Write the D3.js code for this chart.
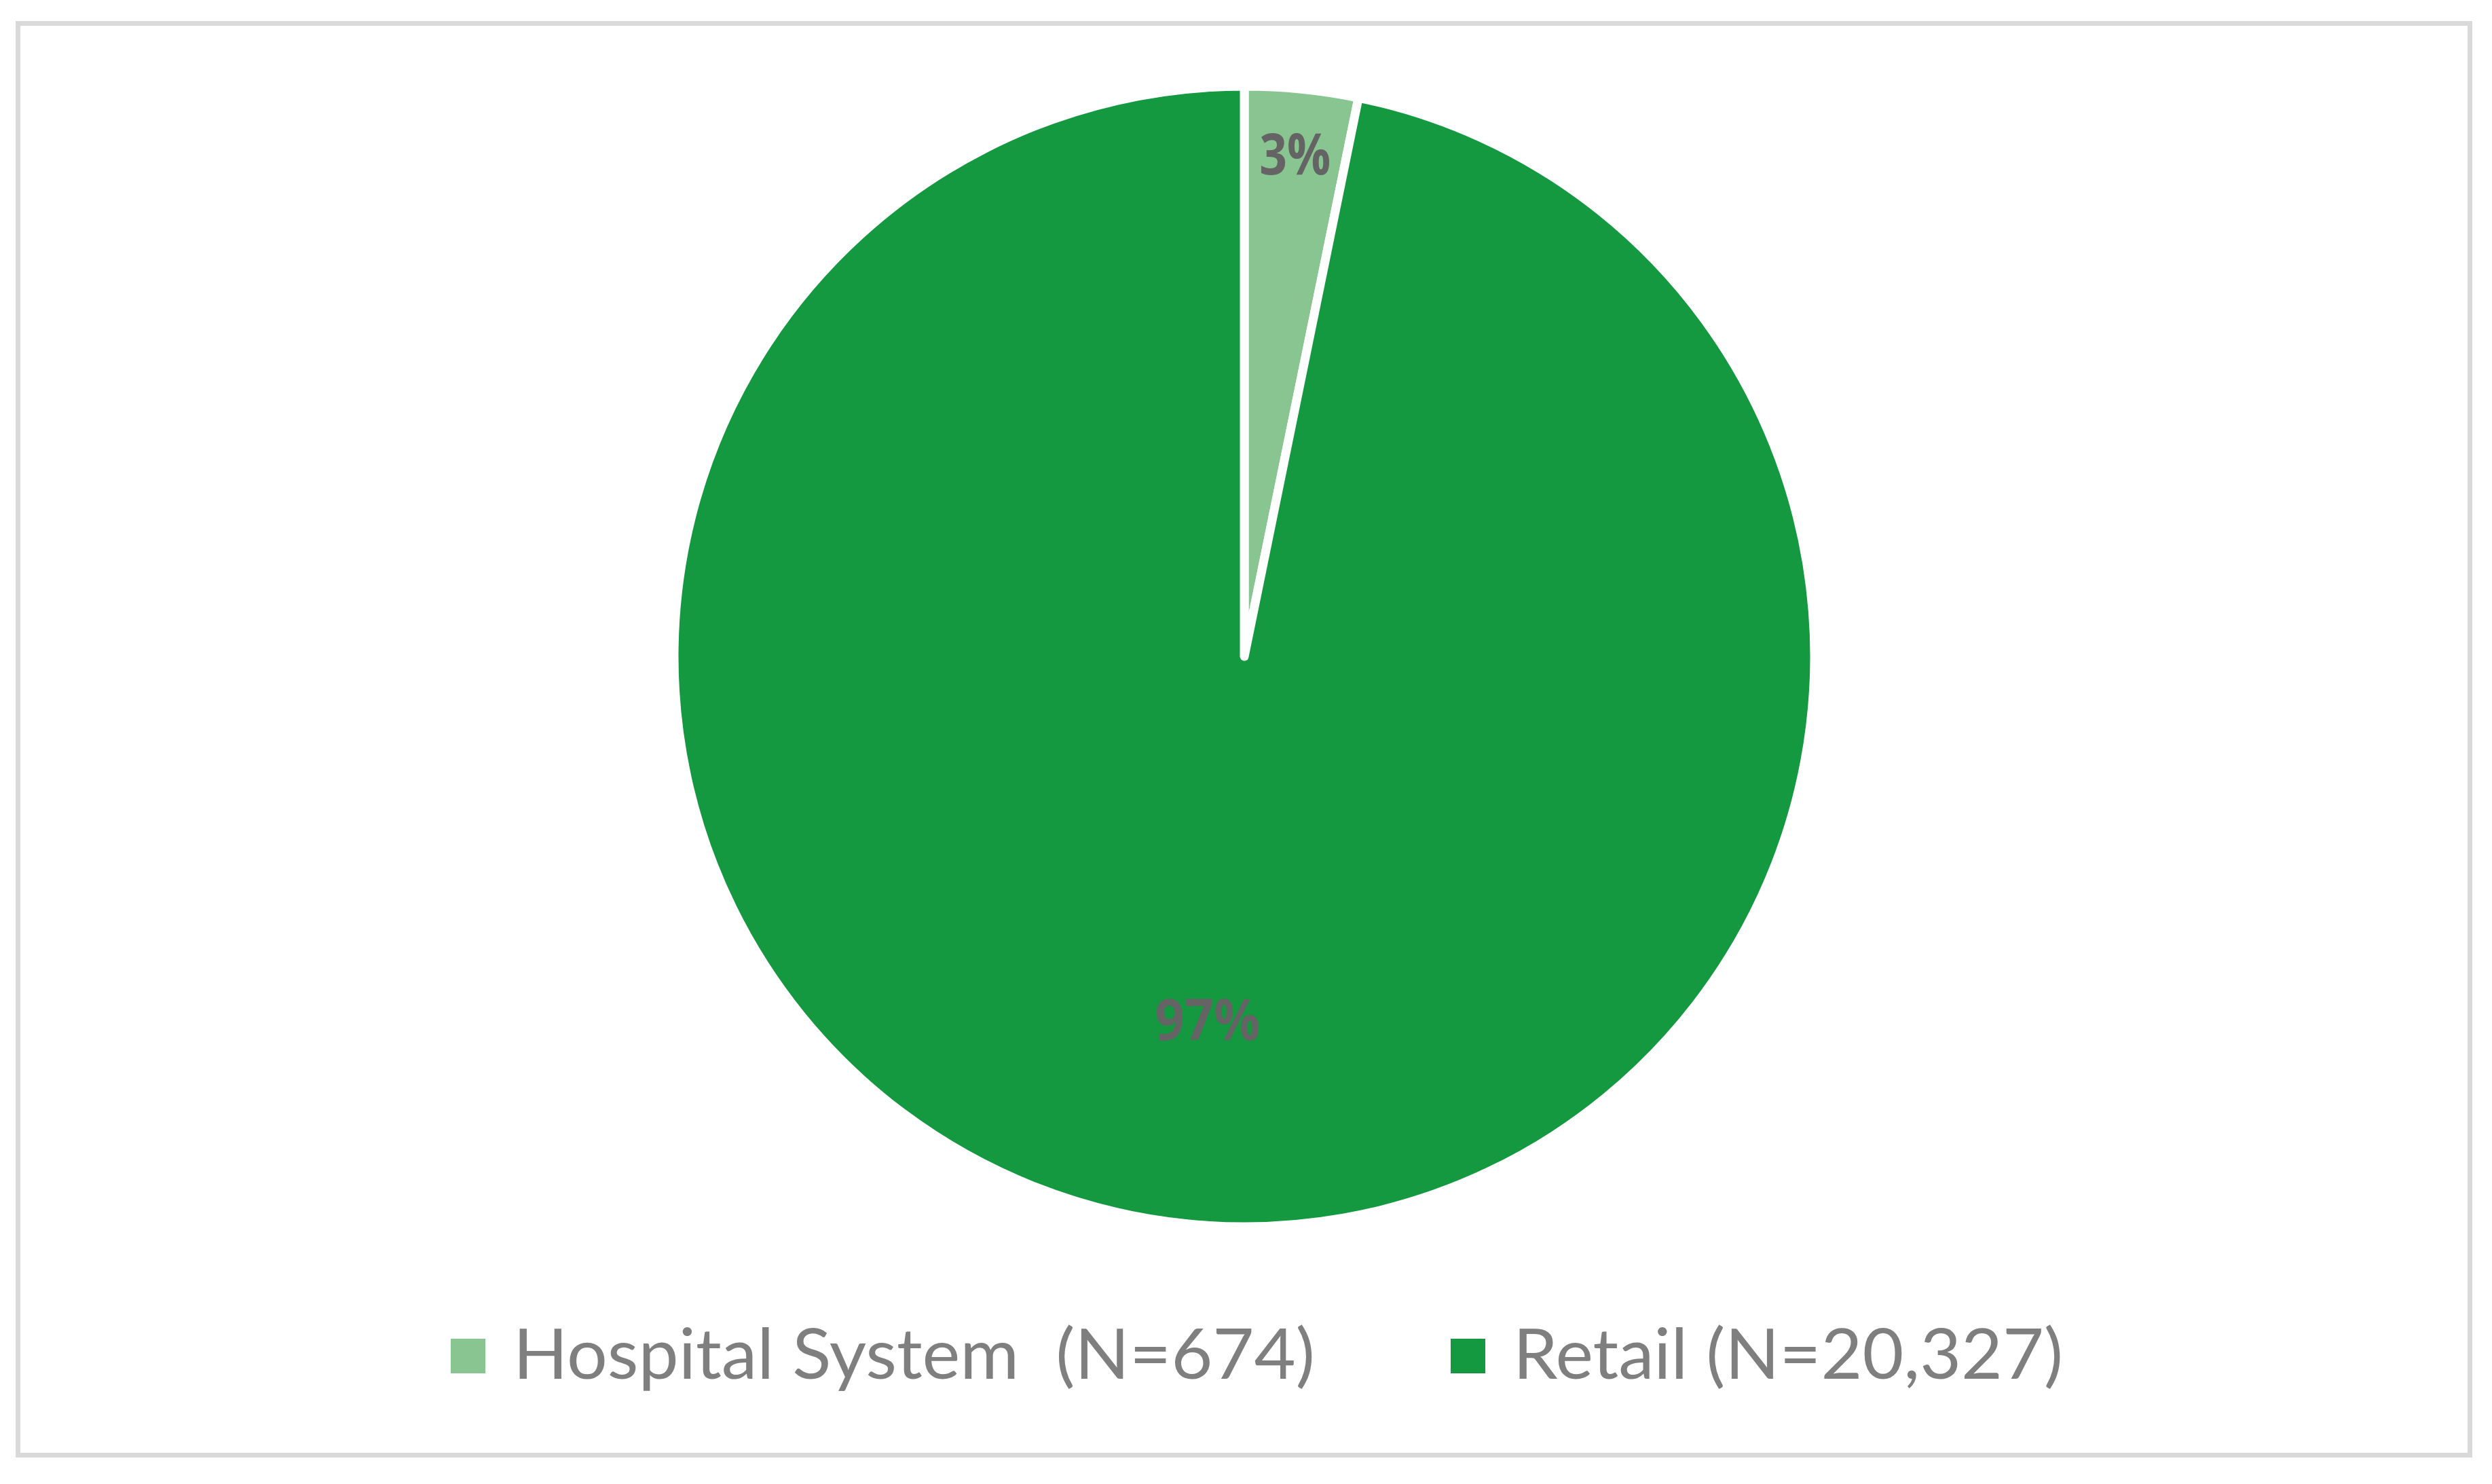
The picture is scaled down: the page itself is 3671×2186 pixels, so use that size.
<!DOCTYPE html>
<html>
<head>
<meta charset="utf-8">
<script src="https://cdn.jsdelivr.net/npm/d3@7"></script>
<style>
html,body{margin:0;padding:0;background:#fff;}
svg{display:block;}
</style>
</head>
<body>
<script>
const categories = ["Hospital System  (N=674)", "Retail (N=20,327)"];
const counts = [674, 20327];
const pctLabels = ["3%", "97%"];
const colors = ["#88c591", "#149840"];

const W = 3671, H = 2186;
const svg = d3.select("body").append("svg").attr("width", W).attr("height", H);

svg.append("rect").attr("x", 26.5).attr("y", 34.5).attr("width", 3612).attr("height", 2109)
  .attr("fill", "#fff").attr("stroke", "#d9d9d9").attr("stroke-width", 7);

const cx = 1833, cy = 967, R = 840;
const g = svg.append("g").attr("transform", `translate(${cx},${cy})`);

const pie = d3.pie().sort(null).value(d => d)(counts);
const arc = d3.arc().innerRadius(0).outerRadius(R);

g.selectAll("path.slice").data(pie).enter().append("path")
  .attr("class", "slice")
  .attr("d", arc)
  .attr("fill", (d, i) => colors[i])
  .attr("stroke", "#fff").attr("stroke-width", 13).attr("stroke-linejoin", "round");

const labelFactor = [0.885, 0.64];
const labelWidth = [105, 155];
g.selectAll("text.lbl").data(pie).enter().append("text")
  .attr("class", "lbl")
  .each(function(d, i) {
    const r = R * labelFactor[i];
    const c = d3.arc().innerRadius(r).outerRadius(r).centroid(d);
    d3.select(this).attr("x", c[0]).attr("y", c[1] + 30);
  })
  .attr("text-anchor", "middle")
  .attr("font-family", "'Open Sans', 'DejaVu Sans', sans-serif")
  .attr("font-weight", 700)
  .attr("font-size", 84)
  .attr("fill", "#646464")
  .attr("textLength", (d, i) => labelWidth[i])
  .attr("lengthAdjust", "spacingAndGlyphs")
  .text((d, i) => pctLabels[i]);

// legend
const legendX = [664, 2137];
const legendTextW = [1181, 810];
const leg = svg.append("g");
categories.forEach((c, i) => {
  leg.append("rect").attr("x", legendX[i]).attr("y", 1972).attr("width", 51).attr("height", 51)
    .attr("fill", colors[i]);
  leg.append("text").attr("x", legendX[i] + 92).attr("y", 2031)
    .attr("font-family", "Lato, 'Open Sans', sans-serif")
    .attr("font-size", 102)
    .attr("fill", "#7f7f7f")
    .attr("textLength", legendTextW[i])
    .attr("lengthAdjust", "spacingAndGlyphs")
    .style("white-space", "pre")
    .attr("xml:space", "preserve")
    .text(c);
});
</script>
</body>
</html>
